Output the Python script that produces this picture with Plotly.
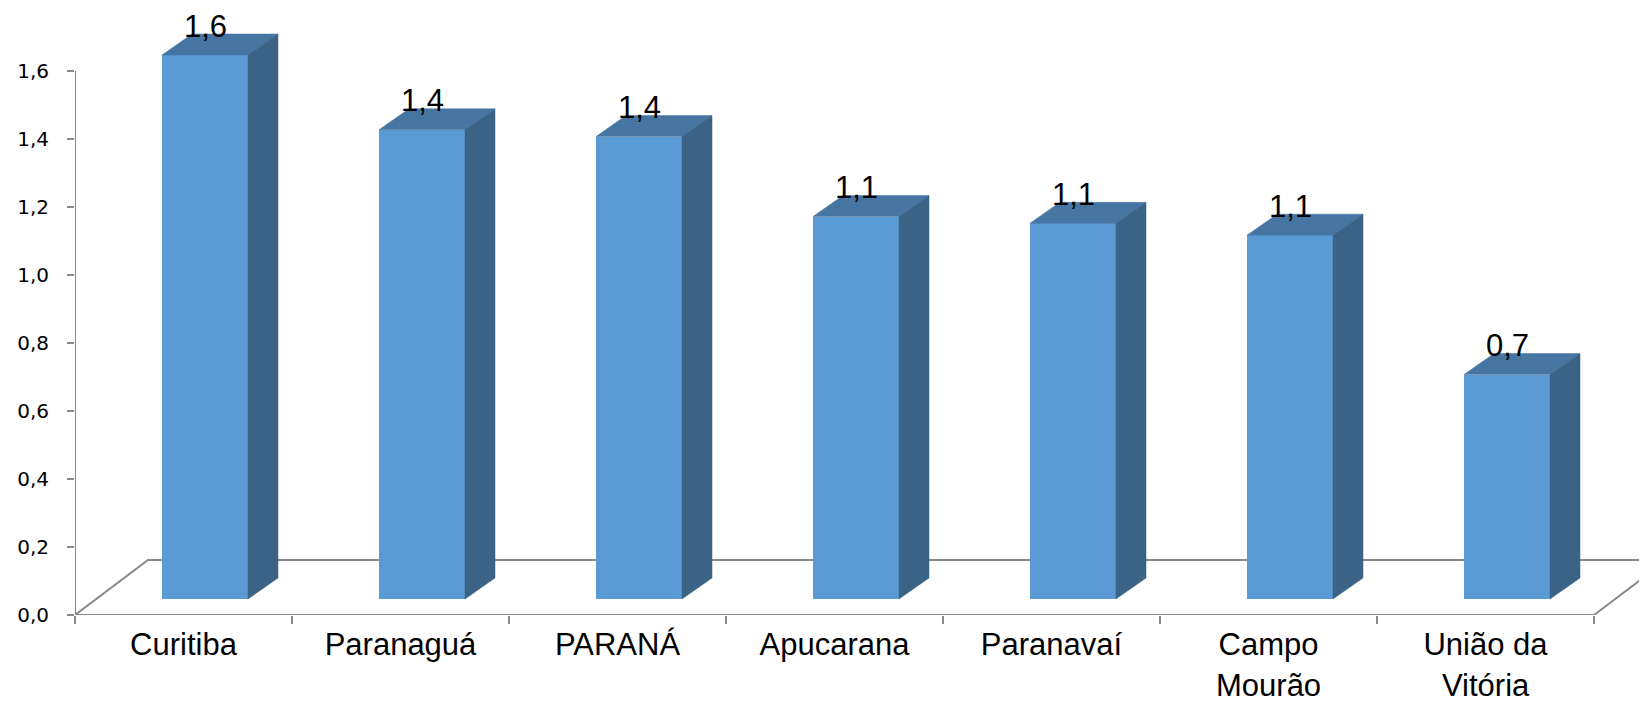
import plotly.graph_objects as go

# ---- data ----
categories = ["Curitiba", "Paranaguá", "PARANÁ", "Apucarana", "Paranavaí",
              "Campo<br>Mourão", "União da<br>Vitória"]
values = [1.60, 1.38, 1.36, 1.125, 1.105, 1.07, 0.66]
y_tick_values = [0.0, 0.2, 0.4, 0.6, 0.8, 1.0, 1.2, 1.4, 1.6]

# ---- geometry / style ----
W, H = 1647, 703
ML, MR, MT, MB = 67, 0, 0, 96
PX_X = 217.0   # pixels per category
PX_Y = 340.0   # pixels per value unit
x_max = -0.5 + (W - ML - MR) / PX_X
y_max = (H - MT - MB) / PX_Y

FLOOR_DX, FLOOR_DY = 73 / PX_X, 55 / PX_Y
BAR_DX, BAR_DY = 21.5 / PX_X, 16 / PX_Y
BAR_W = 86 / PX_X
DEP_DX, DEP_DY = 30 / PX_X, 21 / PX_Y

FRONT = "#5B9BD5"
TOP = "#4675A2"
SIDE = "#3A6386"
GRID = "#898989"
LABEL_FONT = dict(family="Arial, Liberation Sans", size=31, color="black")
n = len(categories)

fig = go.Figure()

# front faces
fig.add_trace(go.Bar(
    x=[i + BAR_DX for i in range(n)], y=values, base=BAR_DY, width=BAR_W,
    marker=dict(color=FRONT, line=dict(width=0)), showlegend=False, hoverinfo="skip"))

# top and side faces
for i, v in enumerate(values):
    xl = i + BAR_DX - BAR_W / 2
    xr = xl + BAR_W
    yb = BAR_DY
    yt = BAR_DY + v
    fig.add_trace(go.Scatter(
        x=[xl, xr, xr + DEP_DX, xl + DEP_DX, xl],
        y=[yt, yt, yt + DEP_DY, yt + DEP_DY, yt],
        fill="toself", fillcolor=TOP, mode="lines", line=dict(width=0.5, color=TOP),
        showlegend=False, hoverinfo="skip"))
    fig.add_trace(go.Scatter(
        x=[xr, xr + DEP_DX, xr + DEP_DX, xr, xr],
        y=[yb, yb + DEP_DY, yt + DEP_DY, yt, yb],
        fill="toself", fillcolor=SIDE, mode="lines", line=dict(width=0.5, color=SIDE),
        showlegend=False, hoverinfo="skip"))
    fig.add_annotation(
        x=i + BAR_DX, y=yt + DEP_DY, text=f"{v:.1f}".replace(".", ","),
        showarrow=False, yanchor="middle", yshift=8,
        font=dict(family="Arial, Liberation Sans", size=31, color="black"))

# category labels: first line as tick label, further lines as tighter-spaced text
first_lines = [c.split("<br>")[0] for c in categories]
for i, c in enumerate(categories):
    for k, line in enumerate(c.split("<br>")[1:], start=1):
        fig.add_annotation(
            x=i, xref="x", y=0, yref="paper", text=line, showarrow=False,
            yanchor="middle", yshift=-36 - 34 * k, borderpad=0, font=LABEL_FONT)

# floor (3D base) and y axis line
x0, x1 = -0.5, n - 0.5
floor_path = (f"M {x0},0 L {x1},0 L {x1 + FLOOR_DX},{FLOOR_DY} "
              f"L {x0 + FLOOR_DX},{FLOOR_DY} Z")
fig.add_shape(type="path", path=floor_path, xref="x", yref="y", layer="below",
              line=dict(color=GRID, width=2))
fig.add_shape(type="line", x0=x0, x1=x0, y0=0, y1=y_tick_values[-1],
              xref="x", yref="y", layer="below", line=dict(color=GRID, width=2))

fig.update_layout(
    width=W, height=H,
    margin=dict(l=ML, r=MR, t=MT, b=MB),
    paper_bgcolor="white", plot_bgcolor="white",
    separators=",.",
    bargap=0,
    xaxis=dict(
        range=[-0.5, x_max], showgrid=False, zeroline=False, showline=False,
        tickmode="array", tickvals=list(range(n)), ticktext=first_lines, ticks="",
        ticklabelstandoff=8,
        tickfont=LABEL_FONT,
        minor=dict(tickmode="array", tickvals=[k - 0.5 for k in range(n + 1)],
                   ticks="outside", ticklen=8, tickcolor=GRID, tickwidth=2, showgrid=False),
    ),
    yaxis=dict(
        range=[0, y_max], showgrid=False, zeroline=False, showline=False,
        tickmode="array", tickvals=y_tick_values, tickformat=".1f",
        ticks="outside", ticklen=7, tickcolor=GRID, tickwidth=2,
        ticklabelstandoff=14,
        tickfont=dict(family="DejaVu Sans", size=20, color="black"),
    ),
)

fig.write_html("out.html")
